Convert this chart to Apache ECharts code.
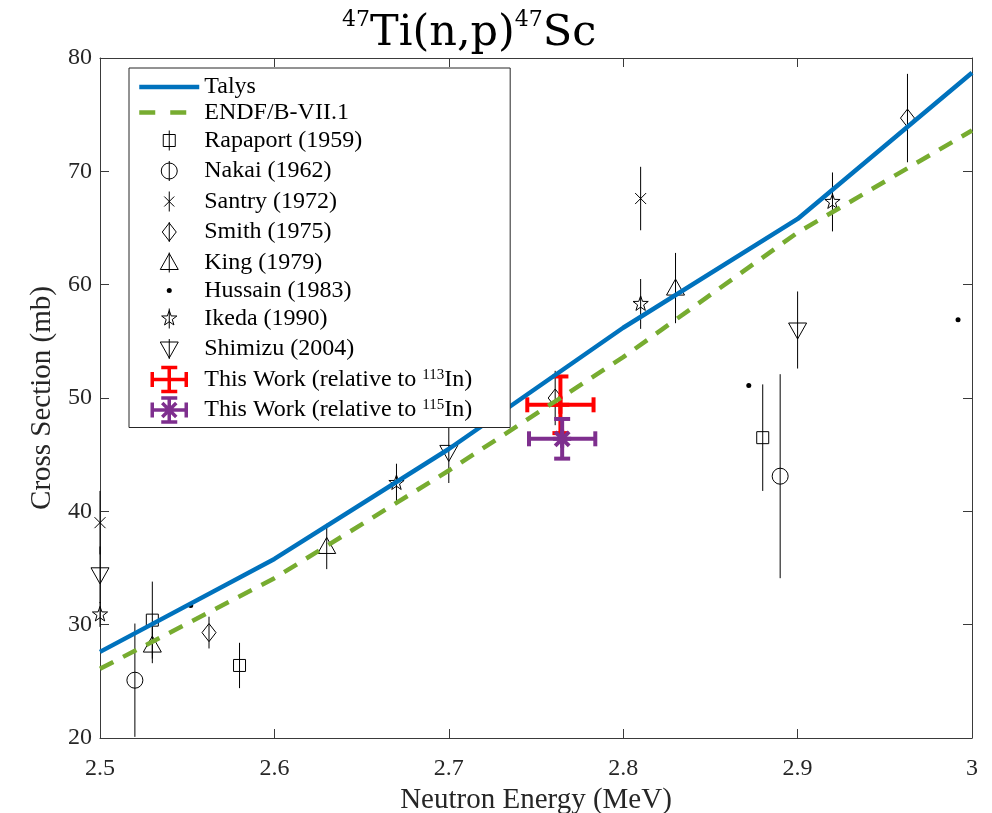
<!DOCTYPE html>
<html><head><meta charset="utf-8">
<script src="https://cdn.jsdelivr.net/npm/echarts@6/dist/echarts.min.js"></script>
<style>html,body{margin:0;padding:0;background:#fff}#c{width:992px;height:813px}</style>
</head><body><div id="c"></div>
<script>
// ---------- data ----------
const xTickValues = [2.5, 2.6, 2.7, 2.8, 2.9, 3.0];
const yTickValues = [20, 30, 40, 50, 60, 70, 80];

const talysE  = [2.5, 2.6, 2.7, 2.8, 2.9, 3.0];
const talysXS = [27.6, 35.8, 45.5, 56.2, 65.8, 78.7];
const endfE   = [2.5, 2.6, 2.7, 2.8, 2.9, 3.0];
const endfXS  = [26.1, 34.1, 43.6, 53.6, 64.6, 73.6];

const rapaportE   = [2.53, 2.58, 2.88];
const rapaportXS  = [30.4, 26.4, 46.5];
const rapaportErr = [3.4, 2.0, 4.7];

const nakaiE   = [2.52, 2.89];
const nakaiXS  = [25.1, 43.1];
const nakaiErr = [5.0, 9.0];

const santryE   = [2.5, 2.81];
const santryXS  = [39.0, 67.6];
const santryErr = [2.8, 2.8];

const smithE   = [2.5625, 2.761, 2.963];
const smithXS  = [29.3, 50.0, 74.7];
const smithErr = [1.4, 2.4, 3.9];

const kingE   = [2.53, 2.63, 2.83];
const kingXS  = [28.2, 36.9, 59.7];
const kingErr = [1.6, 2.0, 3.1];

const hussainE  = [2.552, 2.872, 2.992];
const hussainXS = [31.7, 51.1, 56.9];

const ikedaE   = [2.5, 2.67, 2.81, 2.92];
const ikedaXS  = [30.9, 42.5, 58.3, 67.3];
const ikedaErr = [1.1, 1.7, 2.2, 2.6];

const shimizuE   = [2.5, 2.7, 2.9];
const shimizuXS  = [34.4, 45.2, 56.0];
const shimizuErr = [2.5, 2.7, 3.4];

const work113E    = [2.764];
const work113XS   = [49.4];
const work113XErr = [0.019];
const work113YErr = [2.5];

const work115E    = [2.765];
const work115XS   = [46.4];
const work115XErr = [0.019];
const work115YErr = [1.75];

const seriesNames = ['Talys', 'ENDF/B-VII.1', 'Rapaport (1959)', 'Nakai (1962)', 'Santry (1972)',
  'Smith (1975)', 'King (1979)', 'Hussain (1983)', 'Ikeda (1990)', 'Shimizu (2004)',
  'This Work (relative to 113In)', 'This Work (relative to 115In)'];

// ---------- styling ----------
const FONT = 'Liberation Serif';
const TFONT = 'DejaVu Serif';
const INK = '#262626';
const AX = '#3a3a3a';
const BLUE = '#0072BD', GREEN = '#77AC30', RED = '#FF0000', PURPLE = '#7E2F8E';

function starPts(cx, cy, R, r) {
  const pts = [];
  for (let k = 0; k < 10; k++) {
    const a = -Math.PI / 2 + k * Math.PI / 5;
    const rr = k % 2 === 0 ? R : r;
    pts.push([cx + rr * Math.cos(a), cy + rr * Math.sin(a)]);
  }
  return pts;
}

function markerEls(kind, cx, cy) {
  const st = {fill: 'none', stroke: '#000', lineWidth: 1};
  switch (kind) {
    case 'square': return [{type: 'rect', shape: {x: cx - 6, y: cy - 6, width: 12, height: 12}, style: st}];
    case 'circle': return [{type: 'circle', shape: {cx, cy, r: 8}, style: st}];
    case 'x': return [
      {type: 'line', shape: {x1: cx - 5.5, y1: cy - 5.5, x2: cx + 5.5, y2: cy + 5.5}, style: st},
      {type: 'line', shape: {x1: cx - 5.5, y1: cy + 5.5, x2: cx + 5.5, y2: cy - 5.5}, style: st}];
    case 'diamond': return [{type: 'polygon', shape: {points: [[cx, cy - 9], [cx + 7, cy], [cx, cy + 9], [cx - 7, cy]]}, style: st}];
    case 'tri': return [{type: 'polygon', shape: {points: [[cx, cy - 9], [cx + 9, cy + 7], [cx - 9, cy + 7]]}, style: st}];
    case 'trid': return [{type: 'polygon', shape: {points: [[cx - 9, cy - 7], [cx + 9, cy - 7], [cx, cy + 9]]}, style: st}];
    case 'dot': return [{type: 'circle', shape: {cx, cy, r: 2.5}, style: {fill: '#000'}}];
    case 'star': return [{type: 'polygon', shape: {points: starPts(cx, cy, 8, 3.2)}, style: st}];
  }
  return [];
}

function litSeries(name, kind, E, XS, ERR) {
  const data = E.map((e, i) => [e, XS[i], ERR ? ERR[i] : 0]);
  return {
    type: 'custom', name, data, encode: {x: 0, y: 1}, silent: true, clip: false,
    renderItem: (params, api) => {
      const x = api.value(0), y = api.value(1), err = api.value(2);
      const p = api.coord([x, y]);
      const children = [];
      if (err > 0) {
        const t = api.coord([x, y + err]), b = api.coord([x, y - err]);
        children.push({type: 'line', shape: {x1: t[0], y1: t[1], x2: b[0], y2: b[1]}, style: {stroke: '#000', lineWidth: 1}});
      }
      markerEls(kind, p[0], p[1]).forEach(el => children.push(el));
      return {type: 'group', children};
    }
  };
}

function workSeries(name, color, asterisk, E, XS, XE, YE) {
  const data = E.map((e, i) => [e, XS[i], XE[i], YE[i]]);
  return {
    type: 'custom', name, data, encode: {x: 0, y: 1}, silent: true, clip: false,
    renderItem: (params, api) => {
      const x = api.value(0), y = api.value(1), xe = api.value(2), ye = api.value(3);
      const p = api.coord([x, y]);
      const l = api.coord([x - xe, y]), r = api.coord([x + xe, y]);
      const t = api.coord([x, y + ye]), b = api.coord([x, y - ye]);
      const st = {stroke: color, lineWidth: 4, fill: 'none'};
      const L = (x1, y1, x2, y2) => ({type: 'line', shape: {x1, y1, x2, y2}, style: st});
      const ch = [
        L(l[0], l[1], r[0], r[1]),
        L(l[0], l[1] - 7.5, l[0], l[1] + 7.5),
        L(r[0], r[1] - 7.5, r[0], r[1] + 7.5),
        L(t[0], t[1], b[0], b[1]),
        L(t[0] - 8, t[1], t[0] + 8, t[1]),
        L(b[0] - 8, b[1], b[0] + 8, b[1]),
        L(p[0] - 9, p[1], p[0] + 9, p[1]),
        L(p[0], p[1] - 9, p[0], p[1] + 9)
      ];
      if (asterisk) {
        ch.push(L(p[0] - 7, p[1] - 7, p[0] + 7, p[1] + 7));
        ch.push(L(p[0] - 7, p[1] + 7, p[0] + 7, p[1] - 7));
      }
      return {type: 'group', children: ch};
    }
  };
}

// legend icons (path symbols, 24 px tall bounding box)
const pad = 'M0,-12L0,-12M0,12L0,12';
const bar = 'M0,-10L0,10';
const icons = {
  'Rapaport (1959)': pad + bar + 'M-6,-6L6,-6L6,6L-6,6Z',
  'Nakai (1962)': pad + bar + 'M8,0A8,8,0,1,1,-8,0A8,8,0,1,1,8,0Z',
  'Santry (1972)': pad + bar + 'M-5,-5L5,5M-5,5L5,-5',
  'Smith (1975)': pad + bar + 'M0,-9L7,0L0,9L-7,0Z',
  'King (1979)': pad + bar + 'M0,-9L9,7L-9,7Z',
  'Hussain (1983)': pad + 'M2.5,0A2.5,2.5,0,1,1,-2.5,0A2.5,2.5,0,1,1,2.5,0Z',
  'Ikeda (1990)': pad + bar + 'M0,-8L1.88,-2.59L7.61,-2.47L3.04,0.99L4.70,6.47L0,3.2L-4.70,6.47L-3.04,0.99L-7.61,-2.47L-1.88,-2.59Z',
  'Shimizu (2004)': pad + bar + 'M-9,-7L9,-7L0,9Z',
  'This Work (relative to 113In)': 'M-17,0L17,0M-17,-7.5L-17,7.5M17,-7.5L17,7.5M0,-12L0,12M-8,-12L8,-12M-8,12L8,12',
  'This Work (relative to 115In)': 'M-17,0L17,0M-17,-7.5L-17,7.5M17,-7.5L17,7.5M0,-12L0,12M-8,-12L8,-12M-8,12L8,12M-7,-7L7,7M-7,7L7,-7'
};
const legendLabels = {
  'This Work (relative to 113In)': 'This Work (relative to {sup|113}In)',
  'This Work (relative to 115In)': 'This Work (relative to {sup|115}In)'
};
const hiddenSymbol = {color: 'rgba(0,0,0,0)', borderColor: 'rgba(0,0,0,0)', borderWidth: 0, opacity: 0};
const legendData = seriesNames.map(n => {
  if (n === 'Talys') return {name: n, itemStyle: hiddenSymbol, lineStyle: {color: BLUE, width: 4.5, type: 'solid'}};
  if (n === 'ENDF/B-VII.1') return {name: n, itemStyle: hiddenSymbol, lineStyle: {color: GREEN, width: 4.5, type: [16, 15]}};
  let itemStyle = {color: 'none', borderColor: '#000', borderWidth: 1};
  if (n.startsWith('Hussain')) itemStyle = {color: '#000', borderColor: '#000', borderWidth: 0};
  if (n.indexOf('113') >= 0) itemStyle = {color: 'none', borderColor: RED, borderWidth: 3.5};
  if (n.indexOf('115') >= 0) itemStyle = {color: 'none', borderColor: PURPLE, borderWidth: 3.5};
  return {name: n, icon: 'path://' + icons[n], itemStyle};
});

const chart = echarts.init(document.getElementById('c'));
const axisCommon = {
  axisLine: {show: true, onZero: false, lineStyle: {color: AX, width: 1}},
  axisTick: {show: true, inside: true, length: 9, lineStyle: {color: AX, width: 1}},
  splitLine: {show: false}
};
chart.setOption({
  animation: false,
  backgroundColor: '#fff',
  title: {
    text: '{s|47}{m|Ti(n,p)}{s|47}{m|Sc}',
    left: 337, top: 4,
    textStyle: {
      fontFamily: TFONT, fontSize: 43, fontWeight: 'normal', color: '#000',
      rich: {
        m: {fontFamily: TFONT, fontSize: 43, fontWeight: 'normal', lineHeight: 50, color: '#000'},
        s: {fontFamily: TFONT, fontSize: 22, fontWeight: 'normal', lineHeight: 34, verticalAlign: 'top', color: '#000'}
      }
    }
  },
  grid: {left: 100, right: 20, top: 58, bottom: 75, containLabel: false, outerBoundsMode: 'none'},
  xAxis: [
    Object.assign({
      type: 'value', min: xTickValues[0], max: xTickValues[xTickValues.length - 1], interval: 0.1, position: 'bottom',
      axisLabel: {fontFamily: FONT, fontSize: 24, color: INK, margin: 19,
        formatter: v => String(Math.round(v * 10) / 10)},
      name: 'Neutron Energy (MeV)', nameLocation: 'middle', nameGap: 41,
      nameTextStyle: {fontFamily: FONT, fontSize: 29, color: INK}
    }, axisCommon),
    Object.assign({
      type: 'value', min: xTickValues[0], max: xTickValues[xTickValues.length - 1], interval: 0.1, position: 'top',
      axisLabel: {show: false}
    }, axisCommon)
  ],
  yAxis: [
    Object.assign({
      type: 'value', min: yTickValues[0], max: yTickValues[yTickValues.length - 1], interval: 10, position: 'left',
      axisLabel: {fontFamily: FONT, fontSize: 24, color: INK, margin: 8},
      name: 'Cross Section (mb)', nameLocation: 'middle', nameGap: 37,
      nameTextStyle: {fontFamily: FONT, fontSize: 29, color: INK}
    }, axisCommon),
    Object.assign({
      type: 'value', min: yTickValues[0], max: yTickValues[yTickValues.length - 1], interval: 10, position: 'right',
      axisLabel: {show: false}
    }, axisCommon)
  ],
  legend: {
    orient: 'vertical', left: 129, top: 68,
    padding: [7, 38, 3, 8], itemWidth: 60, itemHeight: 24, itemGap: 1.5,
    backgroundColor: '#fff', borderColor: INK, borderWidth: 1, borderRadius: 0,
    selectedMode: false,
    textStyle: {
      fontFamily: FONT, fontSize: 24, color: '#000', lineHeight: 24,
      rich: {sup: {fontFamily: FONT, fontSize: 15, lineHeight: 18, verticalAlign: 'top', color: '#000'}}
    },
    formatter: name => legendLabels[name] || name,
    data: legendData
  },
  series: [
    {type: 'line', name: seriesNames[0], data: talysE.map((e, i) => [e, talysXS[i]]), symbol: 'none', silent: true,
      lineStyle: {color: BLUE, width: 4.5}, itemStyle: {color: BLUE}},
    {type: 'line', name: seriesNames[1], data: endfE.map((e, i) => [e, endfXS[i]]), symbol: 'none', silent: true,
      lineStyle: {color: GREEN, width: 4.5, type: [15, 11]}, itemStyle: {color: GREEN}},
    litSeries(seriesNames[2], 'square', rapaportE, rapaportXS, rapaportErr),
    litSeries(seriesNames[3], 'circle', nakaiE, nakaiXS, nakaiErr),
    litSeries(seriesNames[4], 'x', santryE, santryXS, santryErr),
    litSeries(seriesNames[5], 'diamond', smithE, smithXS, smithErr),
    litSeries(seriesNames[6], 'tri', kingE, kingXS, kingErr),
    litSeries(seriesNames[7], 'dot', hussainE, hussainXS, null),
    litSeries(seriesNames[8], 'star', ikedaE, ikedaXS, ikedaErr),
    litSeries(seriesNames[9], 'trid', shimizuE, shimizuXS, shimizuErr),
    workSeries(seriesNames[10], RED, false, work113E, work113XS, work113XErr, work113YErr),
    workSeries(seriesNames[11], PURPLE, true, work115E, work115XS, work115XErr, work115YErr)
  ]
});
</script>
</body></html>
